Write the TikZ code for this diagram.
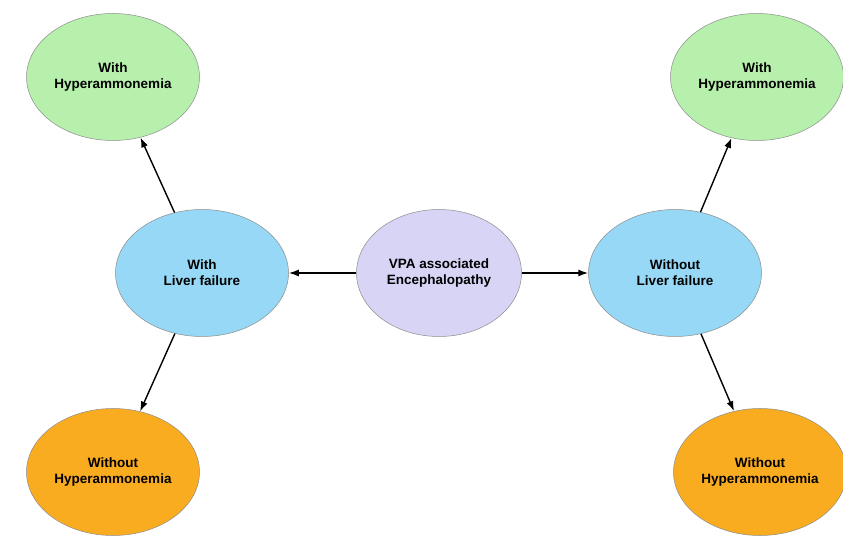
\documentclass[tikz,border=0pt]{standalone}
\usepackage{fontspec}
\setmainfont{Liberation Sans}
\usetikzlibrary{shapes.geometric,arrows.meta}
\definecolor{hypgreen}{RGB}{182,240,172}
\definecolor{liverblue}{RGB}{150,216,246}
\definecolor{vpapurple}{RGB}{216,212,246}
\definecolor{nohyporange}{RGB}{250,172,32}
\begin{document}
\begin{tikzpicture}[x=1pt,y=1pt,
    bubble/.style={ellipse,draw=black!45,line width=0.5pt,minimum width=173pt,
      minimum height=127pt,inner sep=0pt,align=center,
      font=\fontsize{13.5}{16}\selectfont\bfseries}]
      \useasboundingbox (0,0) rectangle (843,541);
      \draw
        (439,268) node[bubble,fill=vpapurple,minimum width=165pt] (vpa){VPA associated\\Encephalopathy}
        (202,268) node[bubble,fill=liverblue] (withlf){With\\Liver failure}
        (675,268) node[bubble,fill=liverblue] (withoutlf){Without\\Liver failure}
        (113,464) node[bubble,fill=hypgreen] (lfhyp){With\\Hyperammonemia}
        (113,69) node[bubble,fill=nohyporange] (lfnohyp){Without\\Hyperammonemia}
        (757,464) node[bubble,fill=hypgreen] (nlfhyp){With\\Hyperammonemia}
        (760,69) node[bubble,fill=nohyporange] (nlfnohyp){Without\\Hyperammonemia};
      \begin{scope}[-{Latex[length=10pt,width=7pt]},line width=1.4pt]
        \draw (vpa) to (withlf);
        \draw (vpa) to (withoutlf);
        \draw (withlf) to (lfhyp);
        \draw (withlf) to (lfnohyp);
        \draw (withoutlf) to (nlfhyp);
        \draw (withoutlf) to (nlfnohyp);
      \end{scope}
    \end{tikzpicture}
\end{document}
